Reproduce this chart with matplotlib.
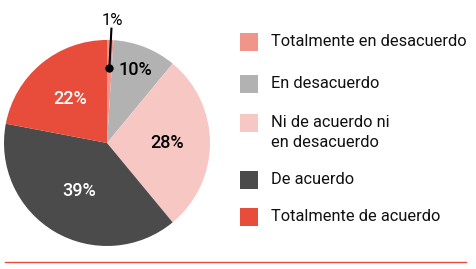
import numpy as np
import matplotlib
matplotlib.use("Agg")
import matplotlib.pyplot as plt
from matplotlib.patches import Rectangle
from matplotlib.lines import Line2D

categories = ["Totalmente en desacuerdo", "En desacuerdo",
              "Ni de acuerdo ni\nen desacuerdo", "De acuerdo",
              "Totalmente de acuerdo"]
values = [1, 10, 28, 39, 22]
colors = ["#f1958a", "#b2b2b2", "#f7c8c3", "#4b4b4b", "#e84c3b"]
label_colors = ["black", "black", "black", "white", "white"]
label_dist = [0.73, 0.76, 0.58, 0.54, 0.56]

plt.rcParams["font.family"] = ["Roboto", "DejaVu Sans"]

fig = plt.figure(figsize=(4.76, 2.69), dpi=100)
ax = fig.add_axes([0.0084, 0.0855, 0.4328, 0.766])
wedges, _ = ax.pie(values, colors=colors, startangle=90, counterclock=False,
                   radius=1.0, wedgeprops=dict(linewidth=0))
ax.set_xlim(-1, 1)
ax.set_ylim(-1, 1)
ax.set_aspect("equal")

for w, v, c, d in zip(wedges, values, label_colors, label_dist):
    mid = np.deg2rad((w.theta1 + w.theta2) / 2)
    x, y = d * np.cos(mid), d * np.sin(mid)
    if v == 1:
        ax.plot([x, x + 0.02], [y, 1.11], color="black", lw=1.5,
                clip_on=False)
        ax.plot(x, y, "o", color="black", ms=5, clip_on=False)
        ax.text(x + 0.03, 1.19, f"{v}%", ha="center", va="center",
                fontsize=12, color="black", clip_on=False)
    else:
        ax.text(x, y, f"{v}%", ha="center", va="center", fontsize=13,
                color=c, fontweight="medium")

# legend
lax = fig.add_axes([0, 0, 1, 1])
lax.set_xlim(0, 476)
lax.set_ylim(269, 0)
lax.axis("off")
rows_y = [42, 84, 123, 180, 217]
for cat, col, y in zip(categories, colors, rows_y):
    lax.add_patch(Rectangle((240, y - 9), 18, 18, color=col, lw=0))
    lax.text(271, y - 8, cat, ha="left", va="top", fontsize=11.8,
             color="#111111", linespacing=1.45)

lax.add_line(Line2D([5, 466], [262, 262], color="#e84c3b", lw=1))

fig.savefig("out.png", dpi=100)
